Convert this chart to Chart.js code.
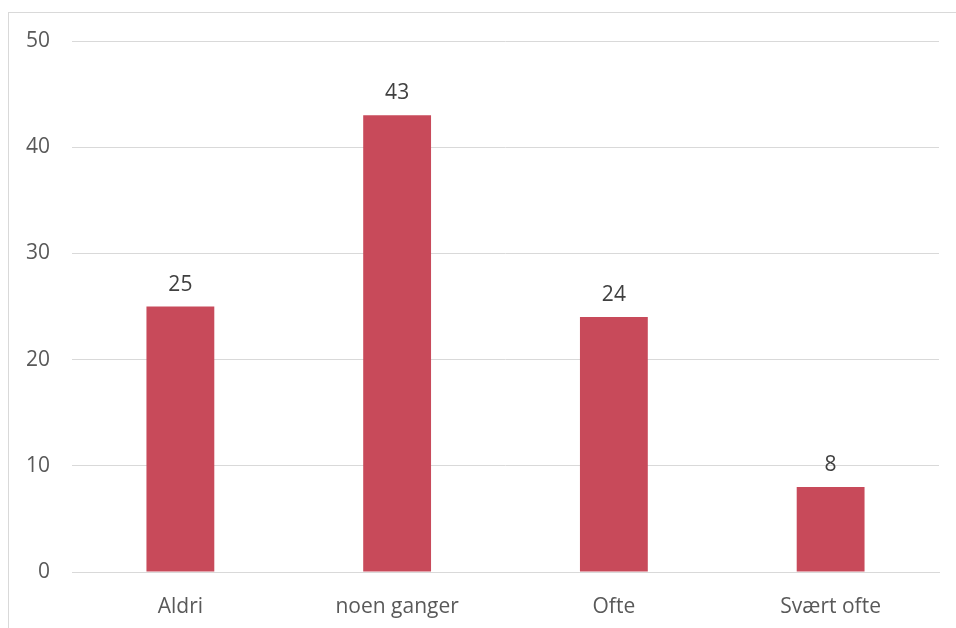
<!DOCTYPE html>
<html>
<head>
<meta charset="utf-8">
<script src="https://cdn.jsdelivr.net/npm/chart.js@4"></script>
<style>
    body { margin: 0; background: #fff; }
    #ramme { position: absolute; left: 8px; top: 12px; width: 960px; height: 630px; border: 1px solid #d9d9d9; }
    #wrap { position: absolute; left: 0; top: 0; width: 956px; height: 628px; }
</style>
</head>
<body>
<div id="ramme"></div>
<div id="wrap"><canvas id="chart"></canvas></div>
<script>
// Data
const kategorier = ['Aldri', 'noen ganger', 'Ofte', 'Svært ofte'];
const verdier = [25, 43, 24, 8];
const yTicks = [0, 10, 20, 30, 40, 50];

const tekstFarge = '#595959';
const font = "'Open Sans', 'Liberation Sans', sans-serif";

// Verdietiketter over stolpene
const etiketter = {
    id: 'etiketter',
    afterDatasetsDraw(chart) {
        const ctx = chart.ctx;
        const meta = chart.getDatasetMeta(0);
        ctx.save();
        ctx.fillStyle = '#404040';
        ctx.font = '21px ' + font;
        ctx.textAlign = 'center';
        ctx.textBaseline = 'alphabetic';
        meta.data.forEach((bar, i) => {
            ctx.fillText(String(verdier[i]), bar.x, bar.y - 16);
        });
        ctx.restore();
    }
};

new Chart(document.getElementById('chart'), {
    type: 'bar',
    data: {
        labels: kategorier,
        datasets: [{
            data: verdier,
            backgroundColor: '#c84a5a',
            categoryPercentage: 1,
            barPercentage: 0.313
        }]
    },
    options: {
        responsive: true,
        maintainAspectRatio: false,
        animation: false,
        layout: { padding: { top: 41, right: 17, bottom: 0, left: 0 } },
        plugins: { legend: { display: false }, tooltip: { enabled: false } },
        scales: {
            x: {
                grid: { display: false },
                border: { color: '#d9d9d9' },
                ticks: { color: tekstFarge, font: { family: font, size: 21 }, padding: 14 },
                afterFit: s => { s.height = 56; }
            },
            y: {
                min: 0,
                max: 50,
                afterBuildTicks: s => { s.ticks = yTicks.map(v => ({ value: v })); },
                grid: { color: '#d9d9d9', drawTicks: false },
                border: { display: false },
                ticks: { color: tekstFarge, font: { family: font, size: 21 }, padding: 22 },
                afterFit: s => { s.width = 72; }
            }
        }
    },
    plugins: [etiketter]
});
</script>
</body>
</html>
